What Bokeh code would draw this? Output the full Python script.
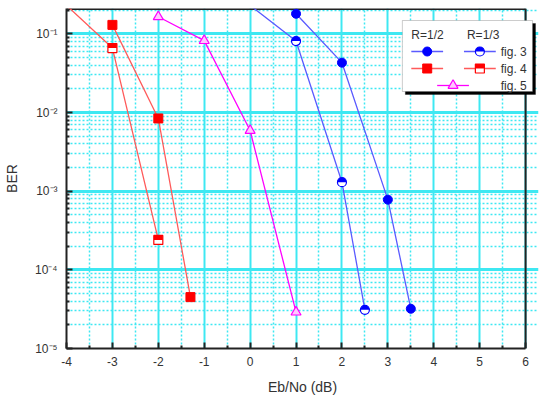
import math
import numpy as np
from bokeh.plotting import figure
from bokeh.models import FixedTicker, CustomJSTickFormatter, BoxAnnotation, Label
from bokeh.embed import file_html
from bokeh.resources import INLINE

# ---- data ----
x_f3_r12 = [1, 2, 3, 3.5]
ber_f3_r12 = [0.18, 0.043, 7.8e-4, 3.2e-5]
x_f3_r13 = [0, 1, 2, 2.5]
ber_f3_r13 = [0.23, 0.081, 1.3e-3, 3.1e-5]
x_f4_r12 = [-3, -2, -1.3]
ber_f4_r12 = [0.13, 8.4e-3, 4.5e-5]
x_f4_r13 = [-4, -3, -2]
ber_f4_r13 = [0.23, 0.066, 2.4e-4]
x_f5 = [-2, -1, 0, 1]
ber_f5 = [0.165, 0.082, 5.9e-3, 2.9e-5]

x_ticks = list(range(-4, 7))
y_decades = [-5, -4, -3, -2, -1]

XMIN, XMAX = -4, 6
YMIN, YMAX = 1e-5, 0.21

FONT = "Liberation Sans"
BLUE = "#0000ff"
BLUE_L = "#5a5aff"
RED = "#ff0000"
RED_L = "#ff5a5a"
MAG = "#ff00ff"
CYAN = "#3ee8f2"

W, H = 540, 400
BL, BT, BB = 63, 8, 52
AXIS_W = 462                      # pixel width of the -4..6 axis
BR = W - BL - AXIS_W - 13         # frame runs a little past x=6 so the legend can overhang
FW = W - BL - BR
FH = H - BT - BB
DX = (XMAX - XMIN) / AXIS_W
XR = XMIN + FW * DX

p = figure(width=W, height=H, output_backend="svg", toolbar_location=None,
           x_range=(XMIN, XR), y_range=(YMIN, YMAX), y_axis_type="log",
           min_border_left=BL, min_border_right=BR, min_border_top=BT, min_border_bottom=BB)
p.outline_line_color = None

# grids
p.xgrid.ticker = FixedTicker(ticks=x_ticks, minor_ticks=[t + 0.5 for t in x_ticks[:-1]])
p.ygrid.ticker = FixedTicker(ticks=[10.0 ** d for d in y_decades],
                             minor_ticks=[k * 10.0 ** d for d in y_decades for k in range(2, 10)])
p.xgrid.grid_line_color = CYAN
p.xgrid.grid_line_width = 2
p.ygrid.grid_line_color = CYAN
p.ygrid.grid_line_width = 3
p.ygrid.bounds = (XMIN, XMAX)
for g in (p.xgrid, p.ygrid):
    g.minor_grid_line_color = CYAN
    g.minor_grid_line_width = 1.5
    g.minor_grid_line_dash = "2 2"

# axes
p.xaxis.ticker = p.xgrid.ticker
p.yaxis.ticker = p.ygrid.ticker
p.xaxis.bounds = (XMIN, XMAX)
p.xaxis.formatter = CustomJSTickFormatter(code="return String(tick);")
p.yaxis.formatter = CustomJSTickFormatter(code="""
const e = Math.round(Math.log10(tick));
const sup = {'-':'\u207b','0':'\u2070','1':'\u00b9','2':'\u00b2','3':'\u00b3','4':'\u2074','5':'\u2075','6':'\u2076','7':'\u2077','8':'\u2078','9':'\u2079'};
return '10' + String(e).split('').map(c => sup[c]).join('');
""")
for ax in (p.xaxis, p.yaxis):
    ax.axis_line_width = 2
    ax.axis_line_color = "#222222"
    ax.major_tick_in = 6
    ax.major_tick_out = 0
    ax.minor_tick_in = 3
    ax.minor_tick_out = 0
    ax.major_tick_line_width = 2
    ax.minor_tick_line_width = 2
    ax.major_tick_line_color = "#222222"
    ax.minor_tick_line_color = "#222222"
    ax.major_label_text_font = FONT
    ax.major_label_text_font_size = "12px"
    ax.major_label_text_color = "#333333"
    ax.axis_label_text_font = FONT
    ax.axis_label_text_font_size = "14px"
    ax.axis_label_text_font_style = "normal"
    ax.axis_label_text_color = "#333333"
p.yaxis.axis_label = "BER"
p.xaxis.axis_label = "Eb/No (dB)"
p.xaxis.major_label_standoff = 8
p.xaxis.axis_label_standoff = 10
p.yaxis.major_label_standoff = 9
p.yaxis.axis_label_standoff = 12

DL = (math.log10(YMAX) - math.log10(YMIN)) / FH


def px2x(px):
    return XMIN + (px - BL) * DX


def py2y(py):
    return 10 ** (math.log10(YMAX) - (py - BT) * DL)


# top and right frame edges (outline of the -4..6 box)
p.line([XMIN, XMAX], [YMAX, YMAX], line_color="#222222", line_width=3)
p.line([XMAX, XMAX], [YMIN, YMAX], line_color="#222222", line_width=2)


def visible(xs, ys):
    xs, ys = np.asarray(xs, float), np.asarray(ys, float)
    m = ys <= YMAX
    return xs[m], ys[m]


def half_square(xs, ys, color, size=9):
    xs, ys = np.asarray(xs, float), np.asarray(ys, float)
    h = size / 2.0
    return p.quad(left=xs - h * DX, right=xs + h * DX, bottom=ys, top=ys * 10 ** (h * DL),
                  fill_color=color, line_color=None)


def half_circle(xs, ys, color, size=9):
    return p.wedge(x=xs, y=ys, radius=size / 2.0, radius_units="screen", start_angle=0,
                   end_angle=math.pi, fill_color=color, line_color=None)


# ---- series ----
p.line(x_f3_r12, ber_f3_r12, line_color=BLUE_L, line_width=1.3)
p.scatter(*visible(x_f3_r12, ber_f3_r12), marker="circle", size=9, fill_color=BLUE, line_color=BLUE)

p.line(x_f3_r13, ber_f3_r13, line_color=BLUE_L, line_width=1.3)
vx, vy = visible(x_f3_r13, ber_f3_r13)
p.scatter(vx, vy, marker="circle", size=9, fill_color="white", line_color=BLUE, line_width=1.2)
half_circle(vx, vy, BLUE)

p.line(x_f4_r12, ber_f4_r12, line_color=RED_L, line_width=1.3)
p.scatter(*visible(x_f4_r12, ber_f4_r12), marker="square", size=9, fill_color=RED, line_color=RED)

p.line(x_f4_r13, ber_f4_r13, line_color=RED_L, line_width=1.3)
vx, vy = visible(x_f4_r13, ber_f4_r13)
p.scatter(vx, vy, marker="square", size=9, fill_color="white", line_color=RED, line_width=1.2)
half_square(vx, vy, RED)

p.line(x_f5, ber_f5, line_color=MAG, line_width=1.3)
p.scatter(*visible(x_f5, ber_f5), marker="triangle", size=10, fill_color="#ffc8ff",
          line_color=MAG, line_width=1.2)

# ---- legend (drawn by hand) ----
LL, LT, LR, LB = 401, 20, 532, 91
p.add_layout(BoxAnnotation(left=px2x(LL + 3), right=px2x(LR + 3), top=py2y(LT + 3), bottom=py2y(LB + 3),
                           fill_color="black", fill_alpha=1, line_color="black", level="annotation"))
p.add_layout(BoxAnnotation(left=px2x(LL), right=px2x(LR), top=py2y(LT), bottom=py2y(LB),
                           fill_color="white", fill_alpha=1, line_color="#555555", line_width=1,
                           level="annotation"))


def leg_label(px, py, text):
    p.add_layout(Label(x=px2x(px), y=py2y(py), text=text, text_font=FONT, text_font_size="12px",
                       text_color="#333333", text_baseline="middle", level="overlay"))


leg_label(410, 34, "R=1/2")
leg_label(466, 34, "R=1/3")
leg_label(500, 51, "fig. 3")
leg_label(500, 68, "fig. 4")
leg_label(500, 85, "fig. 5")

rs = []
for cx, py, col in [(426, 51, BLUE_L), (479, 51, BLUE_L), (426, 68, RED_L), (479, 68, RED_L), (452, 85, MAG)]:
    rs.append(p.line([px2x(cx - 16), px2x(cx + 16)], [py2y(py), py2y(py)], line_color=col, line_width=1.3))

rs += [
    p.scatter([px2x(426)], [py2y(51)], marker="circle", size=9, fill_color=BLUE, line_color=BLUE),
    p.scatter([px2x(479)], [py2y(51)], marker="circle", size=9, fill_color="white", line_color=BLUE, line_width=1.2),
    half_circle([px2x(479)], [py2y(51)], BLUE),
    p.scatter([px2x(426)], [py2y(68)], marker="square", size=9, fill_color=RED, line_color=RED),
    p.scatter([px2x(479)], [py2y(68)], marker="square", size=9, fill_color="white", line_color=RED, line_width=1.2),
    half_square([px2x(479)], [py2y(68)], RED),
    p.scatter([px2x(452)], [py2y(85)], marker="triangle", size=10, fill_color="#ffc8ff", line_color=MAG, line_width=1.2),
]
for r in rs:
    r.level = "overlay"

open("out.html", "w").write(file_html(p, INLINE))
